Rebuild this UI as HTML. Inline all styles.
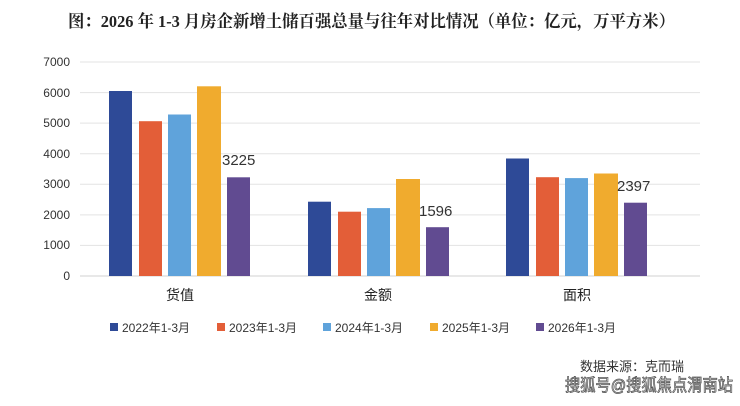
<!DOCTYPE html>
<html><head><meta charset="utf-8"><style>
body{margin:0;background:#fff;}
svg text{font-family:"Liberation Sans","Noto Sans CJK SC",sans-serif;}
</style></head><body>
<svg width="740" height="401" xmlns="http://www.w3.org/2000/svg">
<rect width="740" height="401" fill="#fff"/>
<text x="68" y="27" textLength="607" lengthAdjust="spacingAndGlyphs" font-size="17" font-weight="bold" fill="#222" style="font-family:'Liberation Serif','Noto Serif CJK SC',serif">图：2026 年 1-3 月房企新增土储百强总量与往年对比情况（单位：亿元，万平方米）</text>
<g stroke="#e3e3e3" stroke-width="1">
<line x1="80" x2="700" y1="62" y2="62"/><line x1="80" x2="700" y1="92.6" y2="92.6"/>
<line x1="80" x2="700" y1="123.1" y2="123.1"/><line x1="80" x2="700" y1="153.7" y2="153.7"/>
<line x1="80" x2="700" y1="184.3" y2="184.3"/><line x1="80" x2="700" y1="214.9" y2="214.9"/>
<line x1="80" x2="700" y1="245.4" y2="245.4"/>
</g>
<line x1="80" x2="700" y1="276" y2="276" stroke="#d0d0d0"/>
<g font-size="12" fill="#333" text-anchor="end">
<text x="70" y="66">7000</text><text x="70" y="97">6000</text><text x="70" y="127">5000</text>
<text x="70" y="158">4000</text><text x="70" y="188">3000</text><text x="70" y="219">2000</text>
<text x="70" y="249">1000</text><text x="70" y="280">0</text>
</g>
<g>
<rect x="109" y="91" width="23" height="185" fill="#2e4a97"/>
<rect x="139" y="121.2" width="23" height="154.8" fill="#e35e38"/>
<rect x="168" y="114.5" width="23" height="161.5" fill="#5fa3db"/>
<rect x="197" y="86.3" width="24" height="189.7" fill="#f0ab2e"/>
<rect x="227" y="177.3" width="23" height="98.7" fill="#614b91"/>
<rect x="308" y="201.7" width="23" height="74.3" fill="#2e4a97"/>
<rect x="338" y="211.7" width="23" height="64.3" fill="#e35e38"/>
<rect x="367" y="208.1" width="23" height="67.9" fill="#5fa3db"/>
<rect x="396" y="179" width="24" height="97" fill="#f0ab2e"/>
<rect x="426" y="227.2" width="23" height="48.8" fill="#614b91"/>
<rect x="506" y="158.5" width="23" height="117.5" fill="#2e4a97"/>
<rect x="536" y="177.2" width="23" height="98.8" fill="#e35e38"/>
<rect x="565" y="178.1" width="23" height="97.9" fill="#5fa3db"/>
<rect x="594" y="173.5" width="24" height="102.5" fill="#f0ab2e"/>
<rect x="624" y="202.7" width="23" height="73.3" fill="#614b91"/>
</g>
<g font-size="15" fill="#333">
<text x="222" y="165">3225</text><text x="419" y="216">1596</text><text x="617" y="191">2397</text>
</g>
<g font-size="14" fill="#222" text-anchor="middle">
<text x="180" y="300">货值</text><text x="378" y="300">金额</text><text x="577" y="300">面积</text>
</g>
<g font-size="12" fill="#333">
<rect x="110" y="323" width="8" height="8" fill="#2e4a97"/><text x="122" y="332">2022年1-3月</text>
<rect x="217" y="323" width="8" height="8" fill="#e35e38"/><text x="229" y="332">2023年1-3月</text>
<rect x="323" y="323" width="8" height="8" fill="#5fa3db"/><text x="335" y="332">2024年1-3月</text>
<rect x="430" y="323" width="8" height="8" fill="#f0ab2e"/><text x="442" y="332">2025年1-3月</text>
<rect x="536" y="323" width="8" height="8" fill="#614b91"/><text x="548" y="332">2026年1-3月</text>
</g>
<text x="580" y="371" font-size="13" fill="#333">数据来源：克而瑞</text>
<text x="565" y="391" font-size="17" textLength="168" lengthAdjust="spacingAndGlyphs" fill="#fff" stroke="#555" stroke-width="0.8">搜狐号@搜狐焦点渭南站</text>
</svg>
</body></html>
